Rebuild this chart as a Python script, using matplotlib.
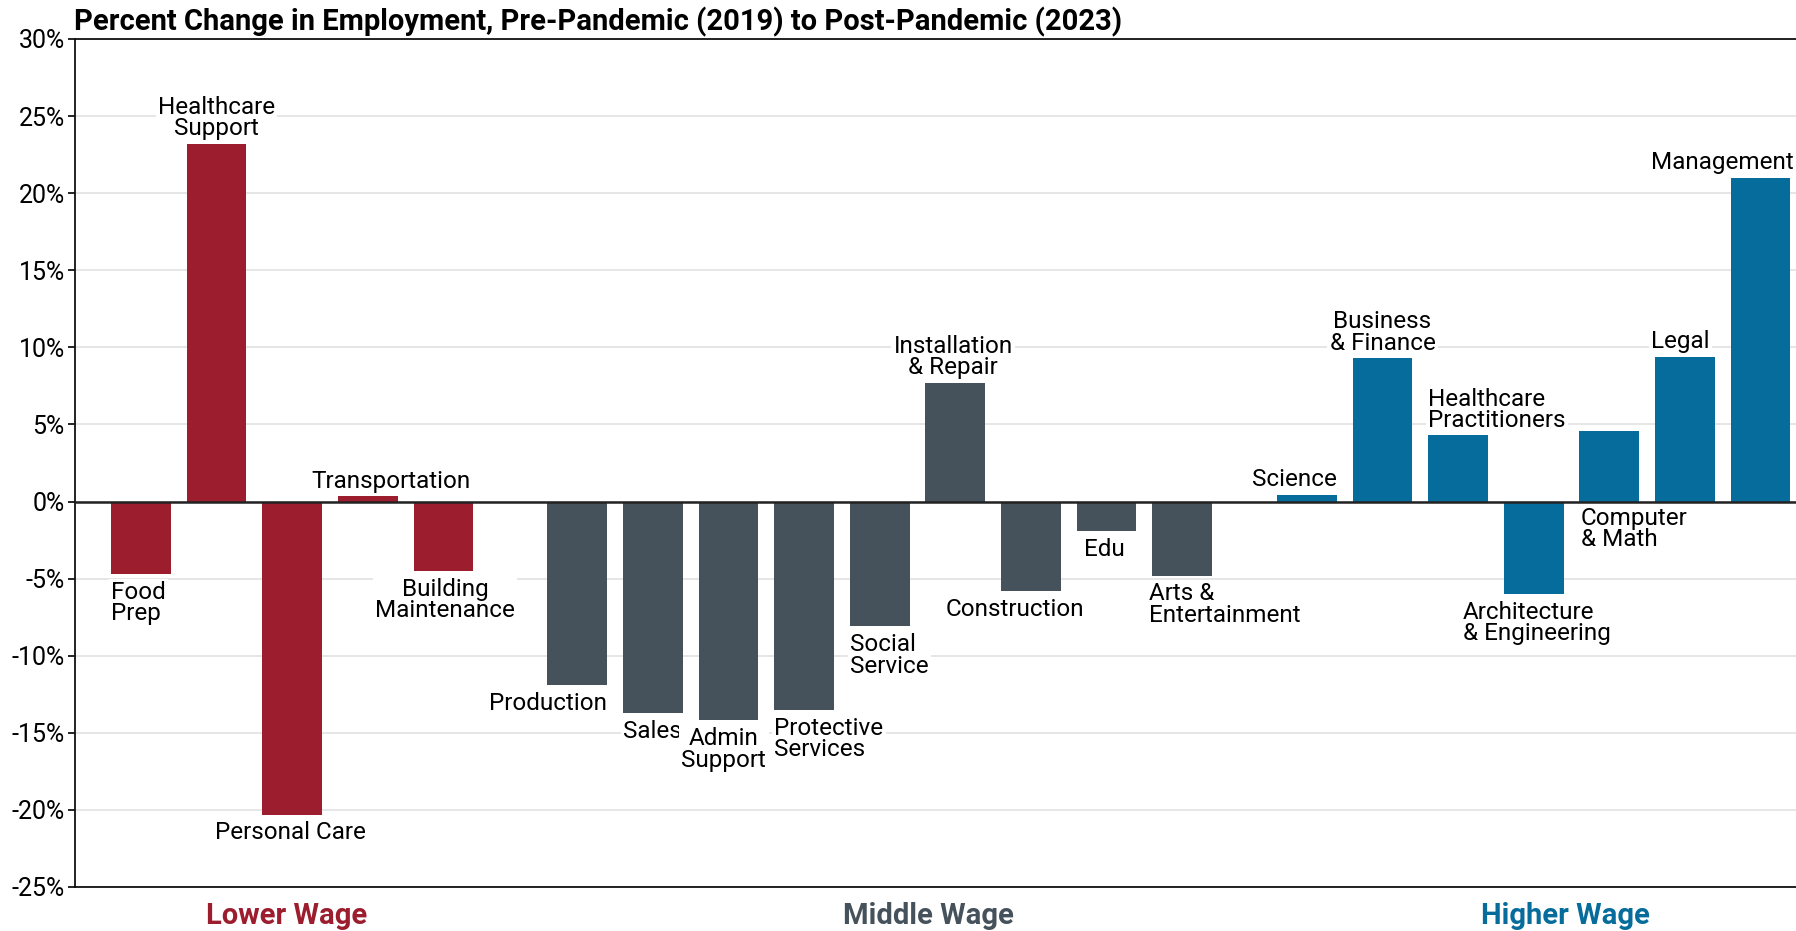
import numpy as np
import matplotlib
matplotlib.use("Agg")
import matplotlib.pyplot as plt

plt.rcParams['font.family'] = ['Roboto', 'DejaVu Sans']

# data
lower_names = ['Food\nPrep', 'Healthcare\nSupport', 'Personal Care', 'Transportation',
               'Building\nMaintenance']
lower_vals = [-4.7, 23.2, -20.3, 0.35, -4.5]
middle_names = ['Production', 'Sales', 'Admin\nSupport', 'Protective\nServices',
                'Social\nService', 'Installation\n& Repair', 'Construction', 'Edu',
                'Arts &\nEntertainment']
middle_vals = [-11.9, -13.7, -14.2, -13.5, -8.1, 7.7, -5.8, -1.9, -4.8]
higher_names = ['Science', 'Business\n& Finance', 'Healthcare\nPractitioners',
                'Architecture\n& Engineering', 'Computer\n& Math', 'Legal', 'Management']
higher_vals = [0.45, 9.3, 4.3, -6.0, 4.6, 9.4, 21.0]
group_names = ['Lower Wage', 'Middle Wage', 'Higher Wage']
yticks = np.arange(-25, 31, 5)

colors = ['#9b1d2e', '#45515b', '#066c9b']

# label placement: (side, anchor, dx, multialign)
# side: 'up' above bar end, 'down' below bar end, 'down0' below zero line
place = {
    'Food\nPrep': ('down', 'l', 0, 'left'),
    'Healthcare\nSupport': ('up', 'c', 0, 'center'),
    'Personal Care': ('down', 'c', -0.03, 'center'),
    'Transportation': ('up', 'c', 0.31, 'center'),
    'Building\nMaintenance': ('down', 'c', 0.02, 'center'),
    'Production': ('down', 'r', 0, 'center'),
    'Sales': ('down', 'l', 0, 'center'),
    'Admin\nSupport': ('down', 'c', -0.06, 'center'),
    'Protective\nServices': ('down', 'l', 0, 'left'),
    'Social\nService': ('down', 'l', 0, 'left'),
    'Installation\n& Repair': ('up', 'c', -0.03, 'center'),
    'Construction': ('down', 'c', -0.21, 'center'),
    'Edu': ('down', 'c', -0.03, 'center'),
    'Arts &\nEntertainment': ('down', 'l', -0.04, 'left'),
    'Science': ('up', 'r', 0, 'center'),
    'Business\n& Finance': ('up', 'c', 0, 'center'),
    'Healthcare\nPractitioners': ('up', 'l', 0, 'left'),
    'Architecture\n& Engineering': ('down', 'c', 0.04, 'left'),
    'Computer\n& Math': ('down0', 'l', 0.02, 'left'),
    'Legal': ('up', 'c', -0.06, 'center'),
    'Management': ('up', 'r', 0.04, 'center'),
}

gaps = [0, 0.77, 1.42]
width = 0.79

fig = plt.figure(figsize=(17.96, 9.31), dpi=100)
ax = fig.add_axes([74.5 / 1796, 1 - 887 / 931, 1 - 74.5 / 1796, 848 / 931])

names_all, vals_all, xs, cols = [], [], [], []
i = 0
for g, (names, vals) in enumerate([(lower_names, lower_vals),
                                   (middle_names, middle_vals),
                                   (higher_names, higher_vals)]):
    for n, v in zip(names, vals):
        names_all.append(n)
        vals_all.append(v)
        xs.append(i + gaps[g])
        cols.append(colors[g])
        i += 1

ax.bar(xs, vals_all, width=width, color=cols, zorder=3)
ax.axhline(0, color='#222222', lw=1.8, zorder=4)

for n, v, x in zip(names_all, vals_all, xs):
    side, anchor, dx, malign = place[n]
    if anchor == 'l':
        xa, ha = x - width / 2, 'left'
    elif anchor == 'r':
        xa, ha = x + width / 2, 'right'
    else:
        xa, ha = x, 'center'
    xa += dx
    if side == 'up':
        ya, va, off = v, 'bottom', 2.5
    elif side == 'down':
        ya, va, off = v, 'top', -5
    else:
        ya, va, off = 0, 'top', -4
    ax.annotate(n, xy=(xa, ya), xytext=(0, off), textcoords='offset points',
                ha=ha, va=va, multialignment=malign, fontsize=17.5,
                linespacing=0.9, zorder=5,
                bbox=dict(fc='white', ec='none', pad=1.5))

ax.set_xlim(-0.88, 21.89)
ax.set_ylim(-25, 30)
ax.set_yticks(yticks)
ax.set_yticklabels([f'{t}%' for t in yticks])
ax.tick_params(axis='y', labelsize=18, length=5, width=1.2, pad=2)
ax.set_xticks([])
ax.grid(axis='y', color='#e2e2e2', lw=1.2, zorder=0)
ax.set_axisbelow(True)
for s in ['left', 'bottom', 'top']:
    ax.spines[s].set_linewidth(1.3)
    ax.spines[s].set_color('#111111')
ax.spines['right'].set_visible(False)

for frac, gname, c in zip([0.123, 0.496, 0.866], group_names, colors):
    ax.text(frac, -0.0343, gname, transform=ax.transAxes, ha='center',
            va='center', fontsize=21, fontweight='bold', color=c)

fig.text(74.5 / 1796, 1 - 30 / 931, 'Percent Change in Employment, Pre-Pandemic (2019) '
         'to Post-Pandemic (2023)', ha='left', va='baseline', fontsize=21,
         fontweight='bold')

fig.savefig('out.png', dpi=100)
